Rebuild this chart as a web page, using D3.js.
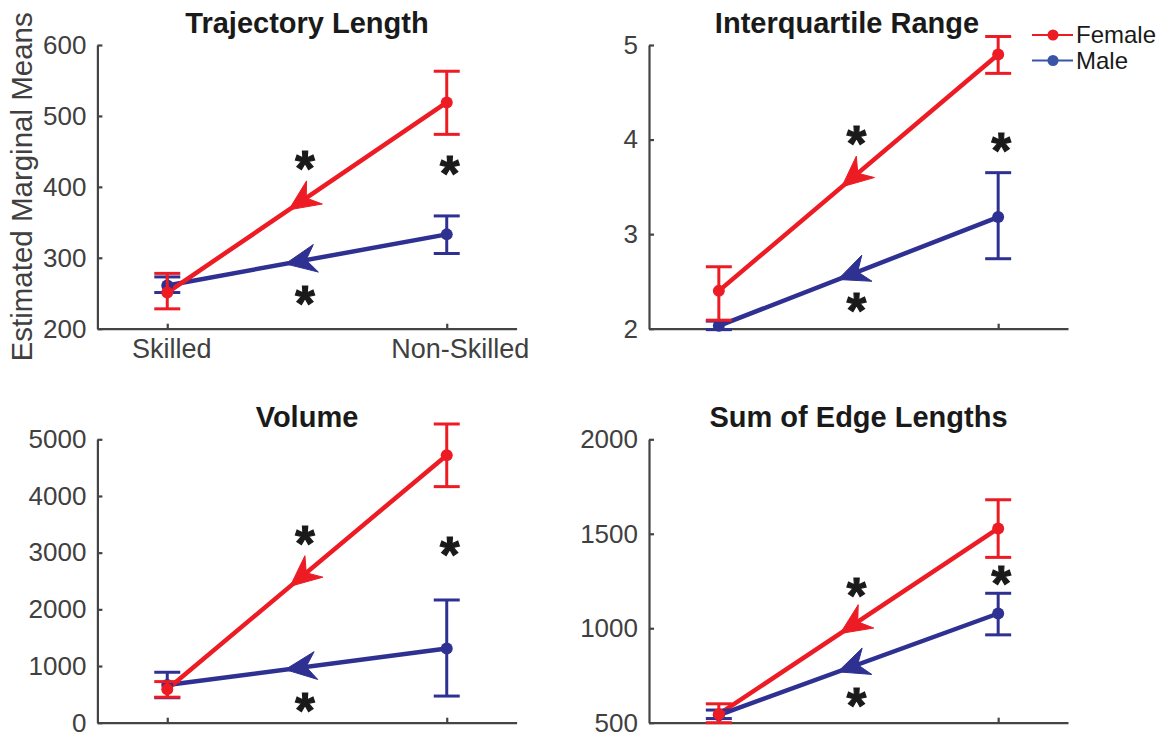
<!DOCTYPE html>
<html>
<head>
<meta charset="utf-8">
<script src="https://cdn.jsdelivr.net/npm/d3@7"></script>
<style>
  html, body { margin: 0; padding: 0; background: #ffffff; }
  svg { display: block; }
  text { font-family: "Liberation Sans", Arial, Helvetica, sans-serif; }
</style>
</head>
<body>
<svg id="chart" width="1168" height="740"></svg>
<script>
// ---------------- data ----------------
const categories = ["Skilled", "Non-Skilled"];
const seriesNames = ["Female", "Male"];
const panelTitles = ["Trajectory Length", "Interquartile Range", "Volume", "Sum of Edge Lengths"];
const yLabel = "Estimated Marginal Means";

// each entry: [mean, lower, upper] for Skilled, Non-Skilled
const trajectoryFemale = [[251, 228, 278], [519, 474, 563]];
const trajectoryMale   = [[261, 251, 273], [333, 306, 359]];
const iqrFemale        = [[2.40, 2.09, 2.655], [4.90, 4.70, 5.09]];
const iqrMale          = [[2.03, 1.99, 2.08], [3.18, 2.74, 3.65]];
const volumeFemale     = [[590, 450, 725], [4720, 4165, 5270]];
const volumeMale       = [[665, 440, 890], [1310, 470, 2165]];
const edgeFemale       = [[545, 500, 600], [1528, 1375, 1680]];
const edgeMale         = [[540, 522, 567], [1078, 965, 1185]];

const trajectoryTicks = [200, 300, 400, 500, 600];
const iqrTicks        = [2, 3, 4, 5];
const volumeTicks     = [0, 1000, 2000, 3000, 4000, 5000];
const edgeTicks       = [500, 1000, 1500, 2000];

// significance markers: [x position (1 = Skilled, 2 = Non-Skilled), y value]
const trajectoryStars = [[1.5, 434], [2, 427], [1.5, 243]];
const iqrStars        = [[1.5, 4.02], [2, 3.94], [1.5, 2.25]];
const volumeStars     = [[1.5, 3259], [2, 3065], [1.5, 312]];
const edgeStars       = [[1.5, 1202], [2, 1266], [1.5, 620]];

// ---------------- styles ----------------
const RED = "#ED1C24";
const BLUE = "#2E3192";
const LEGEND_BLUE = "#3A55A8";
const AXIS = "#444444";
const TEXT = "#404040";
const FONT = "'Liberation Sans', Arial, Helvetica, sans-serif";

const panels = [
  { title: panelTitles[0], female: trajectoryFemale, male: trajectoryMale, ticks: trajectoryTicks, stars: trajectoryStars,
    box: { left: 97.4, right: 516.6, top: 45, bottom: 328.7 }, titleX: null, xLabels: true, yTitle: true },
  { title: panelTitles[1], female: iqrFemale, male: iqrMale, ticks: iqrTicks, stars: iqrStars,
    box: { left: 649, right: 1068, top: 45, bottom: 328.7 }, titleX: 847, xLabels: false, yTitle: false },
  { title: panelTitles[2], female: volumeFemale, male: volumeMale, ticks: volumeTicks, stars: volumeStars,
    box: { left: 97.4, right: 516.6, top: 439.3, bottom: 722.7 }, titleX: null, xLabels: false, yTitle: false },
  { title: panelTitles[3], female: edgeFemale, male: edgeMale, ticks: edgeTicks, stars: edgeStars,
    box: { left: 649, right: 1068, top: 439.3, bottom: 722.7 }, titleX: null, xLabels: false, yTitle: false }
];

const svg = d3.select("#chart");

function drawArrowSeries(g, x, y, data, color) {
  const p0 = [x(1), y(data[0][0])];
  const p1 = [x(2), y(data[1][0])];
  g.append("line")
    .attr("x1", p0[0]).attr("y1", p0[1])
    .attr("x2", p1[0]).attr("y2", p1[1])
    .attr("stroke", color).attr("stroke-width", 4.5).attr("stroke-linecap", "round");
  // arrowhead pointing toward Skilled, placed just past the midpoint
  const dx = p0[0] - p1[0], dy = p0[1] - p1[1];
  const len = Math.hypot(dx, dy);
  const ux = dx / len, uy = dy / len;
  const px = -uy, py = ux;
  const mx = (p0[0] + p1[0]) / 2, my = (p0[1] + p1[1]) / 2;
  const tip = [mx + ux * 22, my + uy * 22];
  const L = 31, W = 14;
  const back = [tip[0] - ux * L, tip[1] - uy * L];
  const notch = [tip[0] - ux * L * 0.68, tip[1] - uy * L * 0.68];
  const c1 = [back[0] + px * W, back[1] + py * W];
  const c2 = [back[0] - px * W, back[1] - py * W];
  g.append("path")
    .attr("d", `M${tip[0]},${tip[1]} L${c1[0]},${c1[1]} L${notch[0]},${notch[1]} L${c2[0]},${c2[1]} Z`)
    .attr("fill", color).attr("stroke", color).attr("stroke-width", 1);
}

function drawErrorBars(g, x, y, data, color) {
  data.forEach((d, i) => {
    const cx = x(i + 1);
    g.append("line")
      .attr("x1", cx).attr("x2", cx)
      .attr("y1", y(d[1])).attr("y2", y(d[2]))
      .attr("stroke", color).attr("stroke-width", 3);
    [d[1], d[2]].forEach(v => {
      g.append("line")
        .attr("x1", cx - 13).attr("x2", cx + 13)
        .attr("y1", y(v)).attr("y2", y(v))
        .attr("stroke", color).attr("stroke-width", 3);
    });
    g.append("circle")
      .attr("cx", cx).attr("cy", y(d[0])).attr("r", 6)
      .attr("fill", color);
  });
}

panels.forEach(p => {
  const b = p.box;
  const x = d3.scaleLinear().domain([0.75, 2.25]).range([b.left, b.right]);
  const y = d3.scaleLinear().domain([p.ticks[0], p.ticks[p.ticks.length - 1]]).range([b.bottom, b.top]);
  const g = svg.append("g");

  const yAxis = d3.axisLeft(y).tickValues(p.ticks).tickSizeInner(-5).tickSizeOuter(0).tickPadding(11)
    .tickFormat(d3.format("d"));
  const ya = g.append("g").attr("transform", `translate(${b.left},0)`).call(yAxis);
  const xAxis = d3.axisBottom(x).tickValues([1, 2]).tickSizeInner(-5).tickSizeOuter(0).tickPadding(10)
    .tickFormat((d, i) => p.xLabels ? categories[i] : "");
  const xa = g.append("g").attr("transform", `translate(0,${b.bottom})`).call(xAxis);

  [ya, xa].forEach(a => {
    a.select(".domain").attr("stroke", AXIS).attr("stroke-width", 2.2);
    a.selectAll(".tick line").attr("stroke", AXIS).attr("stroke-width", 2.2);
    a.selectAll(".tick text").attr("fill", TEXT).attr("font-size", 26).attr("font-family", FONT);
  });
  if (p.xLabels) {
    xa.selectAll(".tick text").attr("font-size", 27).attr("dx", (d, i) => i === 0 ? 4 : 13);
  }

  g.append("text")
    .attr("x", p.titleX !== null ? p.titleX : (b.left + b.right) / 2)
    .attr("y", b.top - 12)
    .attr("text-anchor", "middle")
    .attr("font-size", 29).attr("font-weight", "bold").attr("fill", "#1a1a1a")
    .text(p.title);

  drawArrowSeries(g, x, y, p.male, BLUE);
  drawArrowSeries(g, x, y, p.female, RED);
  drawErrorBars(g, x, y, p.male, BLUE);
  drawErrorBars(g, x, y, p.female, RED);

  // significance stars (glyph centre sits ~0.46em above the baseline)
  p.stars.forEach(s => {
    g.append("text")
      .attr("x", x(s[0]) + (s[0] === 2 ? 3 : -2))
      .attr("y", y(s[1]) + 23)
      .attr("text-anchor", "middle")
      .attr("font-size", 50).attr("font-weight", "bold")
      .attr("fill", "#1a1a1a").attr("stroke", "#1a1a1a").attr("stroke-width", 1.2)
      .text("*");
  });

  if (p.yTitle) {
    const cy = (b.top + b.bottom) / 2;
    g.append("text")
      .attr("transform", `translate(32,${cy}) rotate(-90)`)
      .attr("text-anchor", "middle")
      .attr("font-size", 29.5).attr("fill", TEXT)
      .text(yLabel);
  }
});

// legend
const legend = svg.append("g");
const legendColors = [RED, LEGEND_BLUE];
seriesNames.forEach((name, i) => {
  const ly = 35 + i * 25.5;
  legend.append("line").attr("x1", 1032).attr("x2", 1073).attr("y1", ly).attr("y2", ly)
    .attr("stroke", legendColors[i]).attr("stroke-width", 2);
  legend.append("circle").attr("cx", 1053).attr("cy", ly).attr("r", 5.5).attr("fill", legendColors[i]);
  legend.append("text").attr("x", 1076).attr("y", ly).attr("dy", "0.35em")
    .attr("font-size", 24).attr("fill", "#1a1a1a").text(name);
});
</script>
</body>
</html>
